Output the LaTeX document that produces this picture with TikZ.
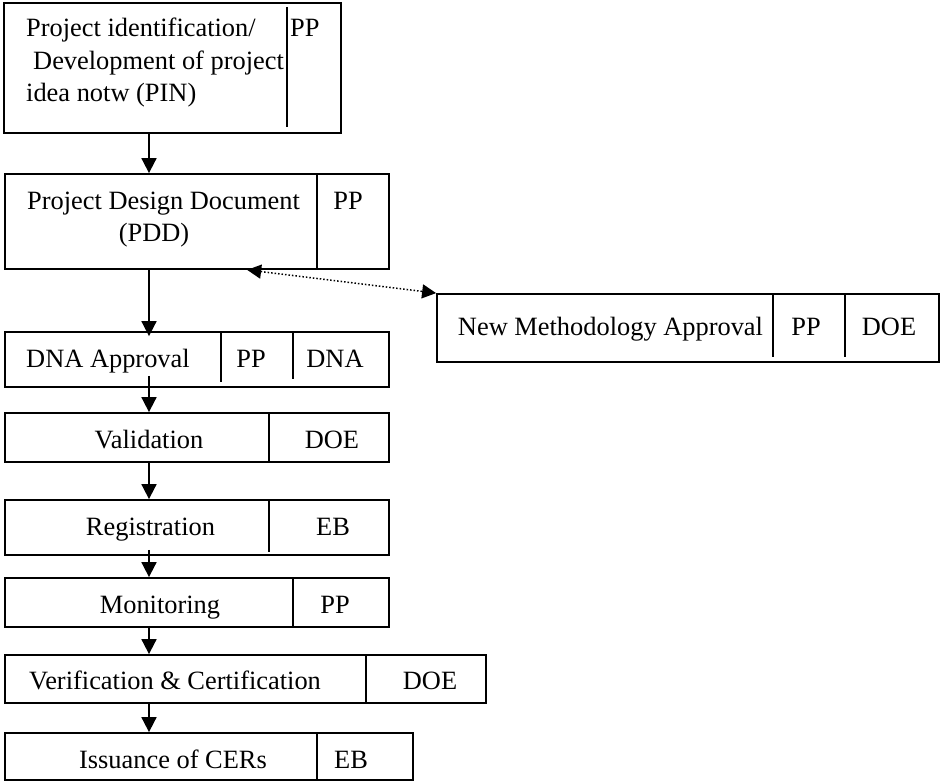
\documentclass[tikz,border=0pt]{standalone}
\usepackage{fontspec}
\setmainfont{Liberation Serif}
\usetikzlibrary{arrows.meta,calc}

\begin{document}
\begin{tikzpicture}[x=1pt,y=-1pt,
        stage/.style={draw, line width=1.8pt, inner sep=0pt},
        divider/.style={line width=1.8pt},
        lbl/.style={inner sep=0pt, anchor=base, font=\fontsize{26.4}{33}\selectfont},
        lblw/.style={lbl, anchor=base west},
        flow/.style={line width=1.8pt, -{Triangle[length=15pt,width=15pt]}},
        link/.style={line width=1.5pt, dotted, {Triangle[length=14pt,width=14pt]}-{Triangle[length=14pt,width=14pt]}}]
        \useasboundingbox (0,0) rectangle (941,781);
        \coordinate (spine) at (149,0);

        \node[stage, minimum width=337pt, minimum height=130pt] (pin) at (172.5,68) {};
        \node[stage, minimum width=384pt, minimum height=95pt] (pdd) at (197,221.5) {};
        \node[stage, minimum width=384pt, minimum height=55pt] (dna) at (197,359.5) {};
        \node[stage, minimum width=384pt, minimum height=49pt] (val) at (197,437.5) {};
        \node[stage, minimum width=384pt, minimum height=55pt] (reg) at (197,527.5) {};
        \node[stage, minimum width=384pt, minimum height=49pt] (mon) at (197,602.5) {};
        \node[stage, minimum width=481pt, minimum height=48pt] (ver) at (245.5,679) {};
        \node[stage, minimum width=408pt, minimum height=47pt] (iss) at (209,756.5) {};
        \node[stage, minimum width=502pt, minimum height=68pt] (nma) at (688,328) {};

        \draw[divider] (287,7) -- (287,127);
        \draw[divider] (317,174) -- (317,269);
        \draw[divider] (221,332) -- (221,382);
        \draw[divider] (293,332) -- (293,379);
        \draw[divider] (269,413) -- (269,462);
        \draw[divider] (269,500) -- (269,552);
        \draw[divider] (293,578) -- (293,627);
        \draw[divider] (366,655) -- (366,703);
        \draw[divider] (317,733) -- (317,780);
        \draw[divider] (773,294) -- (773,357);
        \draw[divider] (845,294) -- (845,357);

        \node[lblw] (pintxta) at (26,37) {Project identification/};
        \node[lblw] (pintxtb) at (33,70) {Development of project};
        \node[lblw] (pintxtc) at (26,102) {idea notw (PIN)};
        \node[lblw] (pinpp) at (290,37) {PP};
        \node[lbl] (pddtxta) at (163.5,209) {Project Design Document};
        \node[lbl] (pddtxtb) at (154,241) {(PDD)};
        \node[lbl] (pddpp) at (348,209) {PP};
        \node[lbl] (dnatxt) at (108,367) {DNA Approval};
        \node[lbl] (dnapp) at (251,367) {PP};
        \node[lbl] (dnadna) at (335,367) {DNA};
        \node[lbl] (valtxt) at (149,448) {Validation};
        \node[lbl] (valdoe) at (332,448) {DOE};
        \node[lbl] (regtxt) at (150.5,535) {Registration};
        \node[lbl] (regeb) at (333,535) {EB};
        \node[lbl] (montxt) at (160,613) {Monitoring};
        \node[lbl] (monpp) at (335,613) {PP};
        \node[lbl] (vertxt) at (175,689) {Verification \& Certification};
        \node[lbl] (verdoe) at (430,689) {DOE};
        \node[lbl] (isstxt) at (173,768) {Issuance of CERs};
        \node[lbl] (isseb) at (351,768) {EB};
        \node[lbl] (nmatxt) at (610.5,335) {New Methodology Approval};
        \node[lbl] (nmapp) at (806,335) {PP};
        \node[lbl] (nmadoe) at (889,335) {DOE};

        \draw[flow] (pin.south -| spine) -- (pdd.north -| spine);
        \draw[flow] (pdd.south -| spine) -- ([yshift=-5pt]dna.north -| spine);
        \draw[flow, shorten <=-12pt] (dna.south -| spine) -- (val.north -| spine);
        \draw[flow] (val.south -| spine) -- (reg.north -| spine);
        \draw[flow, shorten <=-6pt] (reg.south -| spine) -- (mon.north -| spine);
        \draw[flow, shorten <=-2pt] (mon.south -| spine) -- (ver.north -| spine);
        \draw[flow] (ver.south -| spine) -- (iss.north -| spine);
        \draw[link] ($(pdd.south west)!0.63!(pdd.south east)$) -- (nma.north west);
\end{tikzpicture}
\end{document}
